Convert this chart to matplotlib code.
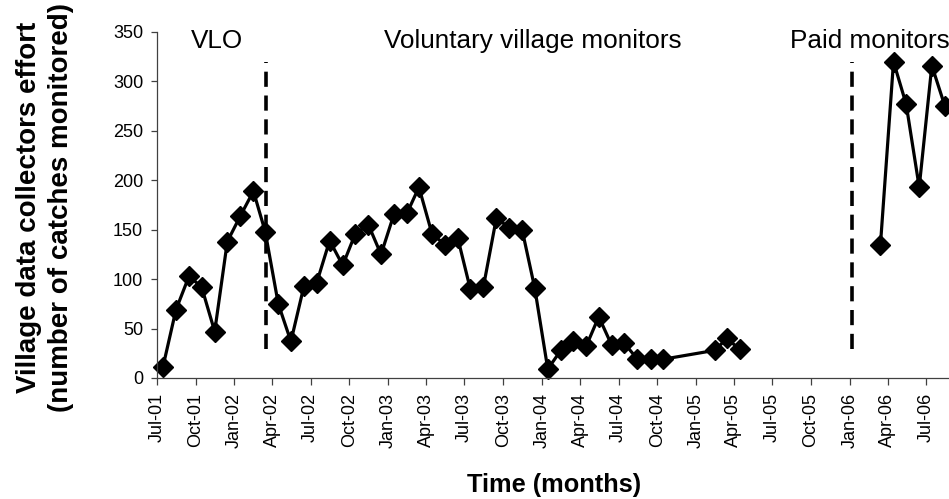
import matplotlib
matplotlib.use("Agg")
import matplotlib.pyplot as plt
import matplotlib.dates as mdates
import pandas as pd

plt.rcParams['font.family'] = ['Liberation Sans', 'DejaVu Sans']

# Voluntary / VLO period (connected line)
months_a = ["2001-07", "2001-08", "2001-09", "2001-10", "2001-11", "2001-12",
            "2002-01", "2002-02", "2002-03", "2002-04", "2002-05", "2002-06",
            "2002-07", "2002-08", "2002-09", "2002-10", "2002-11", "2002-12",
            "2003-01", "2003-02", "2003-03", "2003-04", "2003-05", "2003-06",
            "2003-07", "2003-08", "2003-09", "2003-10", "2003-11", "2003-12",
            "2004-01", "2004-02", "2004-03", "2004-04", "2004-05", "2004-06",
            "2004-07", "2004-08", "2004-09", "2004-10",
            "2005-02", "2005-03", "2005-04"]
effort_a = [11, 69, 103, 92, 47, 138,
            164, 189, 148, 75, 37, 93,
            96, 139, 114, 146, 155, 125,
            166, 167, 193, 146, 135, 142,
            90, 92, 162, 152, 150, 91,
            9, 28, 37, 32, 62, 33,
            35, 19, 19, 19,
            28, 40, 29]

# Paid monitors period
months_b = ["2006-03", "2006-04", "2006-05", "2006-06", "2006-07", "2006-08"]
effort_b = [135, 320, 277, 193, 316, 275]

period_labels = ["VLO", "Voluntary village monitors", "Paid monitors"]
divider_dates = ["2002-03-18", "2006-01-07"]
divider_range = [29, 320]

da = pd.to_datetime([m + "-15" for m in months_a])
db = pd.to_datetime([m + "-15" for m in months_b])

W, H = 949, 499
fig = plt.figure(figsize=(W / 100, H / 100), dpi=100)
ax = fig.add_axes([157 / W, (H - 378) / H, (955 - 157) / W, 346 / H])

style = dict(color='black', linewidth=2.3, marker='D', markersize=9.8,
             markerfacecolor='black', markeredgecolor='black', clip_on=False)
ax.plot(da, effort_a, **style)
ax.plot(db, effort_b, **style)

for d in divider_dates:
    ax.plot([pd.Timestamp(d)] * 2, divider_range, color='black', linewidth=2.6,
            linestyle=(0, (4.2, 2.4)), dash_capstyle='butt')

ax.set_xlim(pd.Timestamp("2001-07-01"), pd.Timestamp("2006-09-08"))
ax.set_ylim(0, 350)
ax.set_yticks(range(0, 351, 50))
ax.xaxis.set_major_locator(mdates.MonthLocator(bymonth=[1, 4, 7, 10]))
ax.xaxis.set_major_formatter(mdates.DateFormatter('%b-%y'))
for lbl in ax.get_xticklabels():
    lbl.set_rotation(90)

ax.tick_params(axis='x', direction='out', length=5, width=0.9, pad=5.5,
               labelsize=13, colors='#404040', labelcolor='black')
ax.tick_params(axis='y', direction='out', length=4, width=0.9, pad=6,
               labelsize=13, colors='#404040', labelcolor='black')

for s in ['top', 'right']:
    ax.spines[s].set_visible(False)
for s in ['left', 'bottom']:
    ax.spines[s].set_color('#404040')
    ax.spines[s].set_linewidth(0.9)

# Period annotations
fig.text(217 / W, 1 - 48 / H, period_labels[0], ha='center', va='baseline', fontsize=18.8)
fig.text(533 / W, 1 - 48 / H, period_labels[1], ha='center', va='baseline', fontsize=18.8)
fig.text(790 / W, 1 - 48 / H, period_labels[2], ha='left', va='baseline', fontsize=18.8)

# Axis titles
fig.text(45 / W, 1 - 207 / H,
         "Village data collectors effort\n(number of catches monitored)",
         rotation=90, ha='center', va='center', multialignment='center',
         fontsize=20, fontweight='bold', linespacing=1.3)
fig.text(554 / W, 1 - 485 / H, "Time (months)", ha='center', va='center',
         fontsize=18.3, fontweight='bold')

fig.savefig("out.png", dpi=100)
